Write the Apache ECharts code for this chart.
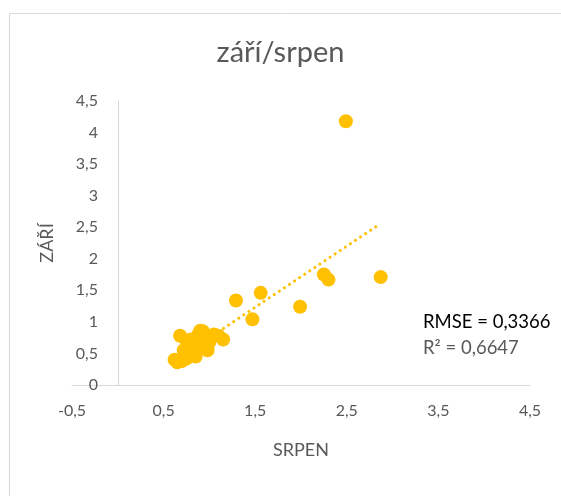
<!DOCTYPE html>
<html>
<head>
<meta charset="utf-8">
<script src="https://cdn.jsdelivr.net/npm/echarts@6/dist/echarts.min.js"></script>
<style>
  html, body { margin: 0; padding: 0; background: #fff; }
  #main { width: 561px; height: 496px; }
</style>
</head>
<body>
<div id="main"></div>
<script>
// srpen (x) vs. září (y)
const srpen = [2.49, 2.87, 2.25, 2.30, 1.99, 1.56, 1.29, 1.47,
  0.62, 0.65, 0.70, 0.75, 0.68, 0.72, 0.78, 0.80, 0.82, 0.85, 0.88, 0.90,
  0.92, 0.95, 0.98, 1.00, 1.05, 1.10, 1.15, 0.85, 0.93, 0.75];
const zari = [4.18, 1.71, 1.75, 1.67, 1.24, 1.46, 1.34, 1.04,
  0.40, 0.36, 0.38, 0.42, 0.78, 0.55, 0.62, 0.72, 0.50, 0.65, 0.80, 0.86,
  0.60, 0.72, 0.55, 0.68, 0.80, 0.78, 0.72, 0.45, 0.85, 0.70];
// linear trend end points
const trendX = [0.60, 2.85];
const trendY = [0.36, 2.54];
const rmseText = 'RMSE = 0,3366';
const r2Text = 'R² = 0,6647';

const fmt = v => String(v).replace('.', ',');
const gold = '#FFC000';
const font = 'Lato, "Open Sans", sans-serif';

var myChart = echarts.init(document.getElementById('main'));
myChart.setOption({
  animation: false,
  textStyle: { fontFamily: font },
  title: {
    text: 'září/srpen',
    left: 'center',
    top: 33,
    textStyle: { fontSize: 29, fontWeight: 'normal', color: '#595959', fontFamily: font }
  },
  grid: { left: 72, right: 31, top: 101, bottom: 111, outerBoundsMode: 'none' },
  xAxis: {
    type: 'value',
    min: -0.5,
    max: 4.5,
    interval: 1,
    name: 'SRPEN',
    nameLocation: 'middle',
    nameGap: 56,
    nameTextStyle: { fontSize: 18, color: '#595959' },
    axisLine: { show: true, lineStyle: { color: '#d9d9d9' } },
    axisTick: { show: false },
    splitLine: { show: false },
    axisLabel: { color: '#595959', fontSize: 16, margin: 18, formatter: fmt }
  },
  yAxis: {
    type: 'value',
    min: 0,
    max: 4.5,
    interval: 0.5,
    offset: -46,
    name: 'ZÁŘÍ',
    nameLocation: 'middle',
    nameGap: 62,
    nameRotate: 90,
    nameTextStyle: { fontSize: 18, color: '#595959' },
    axisLine: { show: true, onZero: false, lineStyle: { color: '#d9d9d9' } },
    axisTick: { show: false },
    splitLine: { show: false },
    axisLabel: { color: '#595959', fontSize: 16, margin: 20, formatter: fmt }
  },
  series: [
    {
      type: 'line',
      data: trendX.map((x, i) => [x, trendY[i]]),
      symbol: 'none',
      z: 3,
      lineStyle: { color: gold, width: 3, type: [0.1, 6], cap: 'round' }
    },
    {
      type: 'scatter',
      data: srpen.map((x, i) => [x, zari[i]]),
      symbolSize: 14,
      itemStyle: { color: gold, opacity: 1 },
      z: 2
    }
  ],
  graphic: [
    {
      type: 'rect',
      shape: { x: 9.5, y: 13.5, width: 700, height: 700 },
      style: { fill: 'none', stroke: '#d9d9d9', lineWidth: 1 },
      silent: true
    },
    {
      type: 'text',
      left: 423, top: 313,
      style: { text: rmseText, fontSize: 18.5, fill: '#000', fontFamily: font }
    },
    {
      type: 'text',
      left: 423, top: 339,
      style: { text: r2Text, fontSize: 18.5, fill: '#595959', fontFamily: font }
    }
  ]
});
</script>
</body>
</html>
